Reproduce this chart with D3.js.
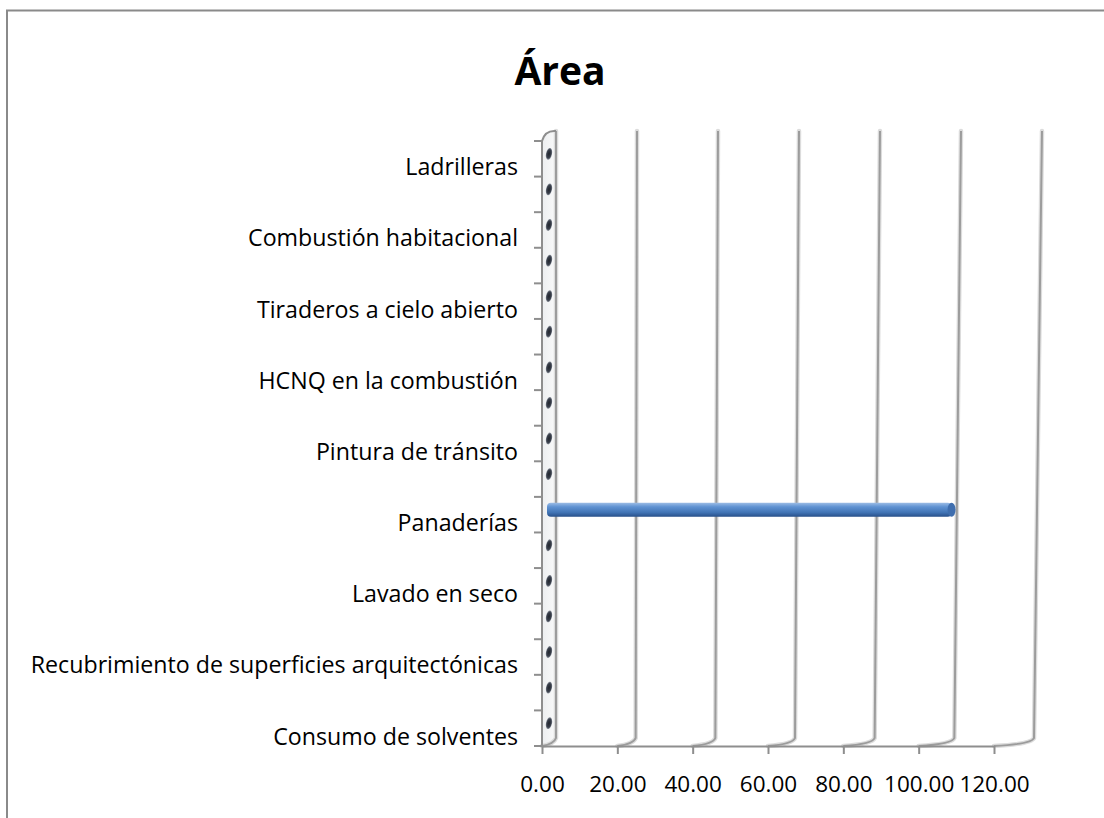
<!DOCTYPE html>
<html>
<head>
<meta charset="utf-8">
<script src="https://cdn.jsdelivr.net/npm/d3@7"></script>
<style>
body{margin:0;background:#fff}
text{font-family:"Open Sans",sans-serif}
</style>
</head>
<body>
<svg id="grafica"></svg>
<script>
// categorias de abajo hacia arriba (Excel solo rotula una de cada dos, las otras no se leen)
var categorias = ["Consumo de solventes","","Recubrimiento de superficies arquitectónicas","","Lavado en seco","",
    "Panaderías","","Pintura de tránsito","","HCNQ en la combustión","","Tiraderos a cielo abierto","",
    "Combustión habitacional","","Ladrilleras"]
var valores = [0,0,0,0,0,0,103,0,0,0,0,0,0,0,0,0,0]
var ticksX = [0,20,40,60,80,100,120]
var titulo = "Área"

var width = 1104, height = 818
// caja 3D: cara frontal y fondo (perspectiva)
var frente = {izq:542, der:994, abajo:746, arriba:141}
var fondo = {izq:556, der:1042, abajo:738, arriba:131}

var svg = d3.select("#grafica")
    .attr("width", width)
    .attr("height", height)

//Escalas
var xFrente = d3.scaleLinear().domain([0,120]).range([frente.izq, frente.der])
var xFondo = d3.scaleLinear().domain([0,120]).range([fondo.izq, fondo.der])       // arriba del fondo
var xFondoBajo = d3.scaleLinear().domain([0,120]).range([fondo.izq, 1034])        // abajo del fondo (se inclina un poco)
var xMedio = v => (xFrente(v) + xFondo(v)) / 2   // los cilindros van a media profundidad

var escalaY = d3.scaleBand()
    .domain(d3.range(categorias.length))
    .range([frente.abajo, frente.arriba])
var bordes = d3.scaleLinear().domain([0, categorias.length]).range([frente.abajo, frente.arriba])
var yMedio = i => escalaY(i) + escalaY.bandwidth()/2 - 5

//Gradientes
var defs = svg.append("defs")
var gBarra = defs.append("linearGradient").attr("id","gBarra").attr("x1",0).attr("x2",0).attr("y1",0).attr("y2",1)
gBarra.append("stop").attr("offset","0%").attr("stop-color","#9dbde6")
gBarra.append("stop").attr("offset","30%").attr("stop-color","#5f92d2")
gBarra.append("stop").attr("offset","70%").attr("stop-color","#4174b5")
gBarra.append("stop").attr("offset","100%").attr("stop-color","#28508a")

var gPunto = defs.append("radialGradient").attr("id","gPunto")
gPunto.append("stop").attr("offset","0%").attr("stop-color","#20242c")
gPunto.append("stop").attr("offset","70%").attr("stop-color","#3b414d")
gPunto.append("stop").attr("offset","100%").attr("stop-color","#8a909a")

var gPared = defs.append("linearGradient").attr("id","gPared").attr("x1",0).attr("x2",1)
gPared.append("stop").attr("offset","0%").attr("stop-color","#eceef0")
gPared.append("stop").attr("offset","100%").attr("stop-color","#fafafa")

//Pared lateral
svg.append("path")
    .attr("d","M"+frente.izq+","+frente.abajo+" L"+frente.izq+","+frente.arriba+" Q"+(frente.izq+3)+","+(fondo.arriba-1)+" "+fondo.izq+","+fondo.arriba+" L"+fondo.izq+","+fondo.abajo+" Z")
    .attr("fill","url(#gPared)")

//Lineas de division (pared del fondo + suelo)
var rejilla = svg.append("g")
var trazo = d => "M"+xFondo(d)+","+fondo.arriba+" L"+xFondoBajo(d)+","+fondo.abajo+" Q"+(xFondoBajo(d)-2)+","+(frente.abajo-2)+" "+xFrente(d)+","+frente.abajo
rejilla.selectAll(".halo")
    .data(ticksX).enter()
    .append("path")
    .attr("d", trazo)
    .attr("fill","none")
    .attr("stroke","#dcdcdc")
    .attr("stroke-width",4.5)
    .attr("stroke-linecap","round")
rejilla.selectAll(".linea")
    .data(ticksX).enter()
    .append("path")
    .attr("d", trazo)
    .attr("fill","none")
    .attr("stroke","#9c9c9c")
    .attr("stroke-width",2)

//Borde frontal de la pared
svg.append("path")
    .attr("d","M"+frente.izq+","+frente.abajo+" L"+frente.izq+","+frente.arriba+" Q"+(frente.izq+3)+","+(fondo.arriba-1)+" "+fondo.izq+","+fondo.arriba)
    .attr("fill","none")
    .attr("stroke","#8e8e8e")
    .attr("stroke-width",2)

//Eje X
var ejeX = d3.axisBottom(xFrente)
    .tickValues(ticksX)
    .tickFormat(d3.format(".2f"))
    .tickSize(8)
    .tickSizeOuter(0)
    .tickPadding(22)
var gX = svg.append("g")
    .attr("transform","translate(0,"+frente.abajo+")")
    .call(ejeX)
gX.select(".domain").attr("stroke","#8e8e8e").attr("stroke-width",2)
gX.selectAll(".tick line").attr("stroke","#8e8e8e").attr("stroke-width",2)
gX.selectAll("text").attr("fill","#000").style("font-size","22.5px").style("font-family","'Open Sans',sans-serif")

//Eje Y: marcas entre categorias
svg.append("g")
    .selectAll("line")
    .data(d3.range(categorias.length + 1)).enter()
    .append("line")
    .attr("x1", frente.izq - 8)
    .attr("x2", frente.izq)
    .attr("y1", d => bordes(d))
    .attr("y2", d => bordes(d))
    .attr("stroke","#8e8e8e")
    .attr("stroke-width",2)

var ejeY = d3.axisLeft(escalaY)
    .tickSize(0)
    .tickPadding(24)
    .tickFormat(i => categorias[i])
var gY = svg.append("g")
    .attr("transform","translate("+frente.izq+",9)")
    .call(ejeY)
gY.select(".domain").remove()
gY.selectAll("text").attr("fill","#000").style("font-size","23.2px").style("font-family","'Open Sans',sans-serif")

//Cilindros
var cilindros = svg.append("g")
var datos = valores.map((v,i) => ({i:i, v:v}))

// valor 0: solo se ve la tapa
cilindros.selectAll(".tapa")
    .data(datos.filter(d => d.v == 0)).enter()
    .append("ellipse")
    .attr("class","tapa")
    .attr("cx", d => xMedio(0))
    .attr("cy", d => yMedio(d.i))
    .attr("rx",3)
    .attr("ry",6)
    .attr("transform", d => "rotate(12,"+xMedio(0)+","+yMedio(d.i)+")")
    .attr("fill","url(#gPunto)")

cilindros.selectAll(".barra")
    .data(datos.filter(d => d.v > 0)).enter()
    .append("rect")
    .attr("class","barra")
    .attr("x", d => xMedio(0) - 2)
    .attr("y", d => yMedio(d.i) - 7)
    .attr("width", d => xMedio(d.v) - xMedio(0) + 2)
    .attr("height",14)
    .attr("rx",4)
    .attr("fill","url(#gBarra)")

cilindros.selectAll(".fin")
    .data(datos.filter(d => d.v > 0)).enter()
    .append("ellipse")
    .attr("class","fin")
    .attr("cx", d => xMedio(d.v))
    .attr("cy", d => yMedio(d.i))
    .attr("rx",4)
    .attr("ry",7)
    .attr("fill","#3f6eae")

//Titulo
svg.append("text")
    .attr("x",560)
    .attr("y",85)
    .attr("text-anchor","middle")
    .style("font-size","39px")
    .style("font-weight","bold")
    .attr("fill","#000")
    .text(titulo)

//Marco
svg.append("rect")
    .attr("x",7)
    .attr("y",10.5)
    .attr("width",1300)
    .attr("height",1000)
    .attr("fill","none")
    .attr("stroke","#8a8a8a")
    .attr("stroke-width",2)
</script>
</body>
</html>
